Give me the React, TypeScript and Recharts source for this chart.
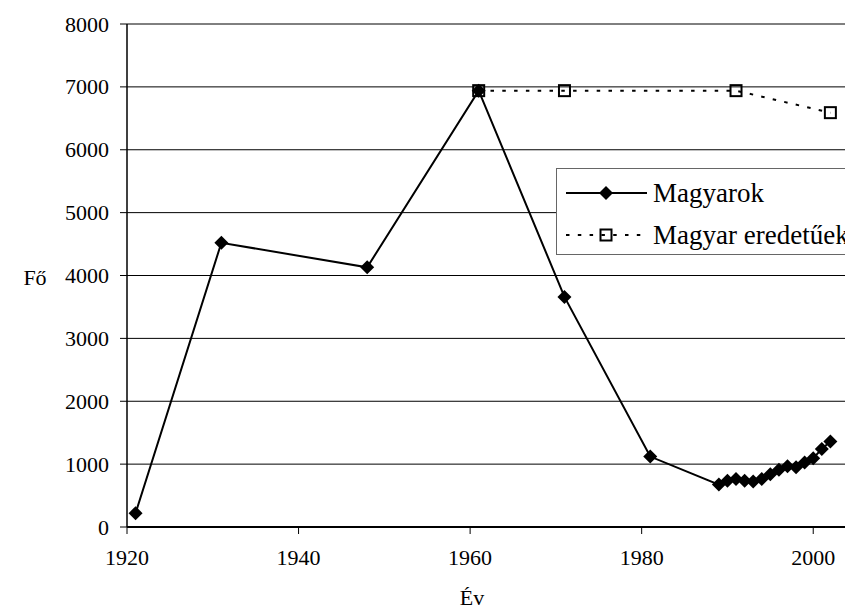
import { LineChart, Line, XAxis, YAxis, CartesianGrid, Label } from "recharts";

const FONT = "Liberation Serif, DejaVu Serif, serif";

// Magyarok (census years, then yearly estimates 1989-2002)
const magyarokYears = [1921, 1931, 1948, 1961, 1971, 1981, 1989, 1990, 1991, 1992, 1993, 1994, 1995, 1996, 1997, 1998, 1999, 2000, 2001, 2002];
const magyarokValues = [220, 4520, 4130, 6940, 3660, 1120, 675, 735, 765, 735, 725, 765, 840, 910, 965, 950, 1025, 1095, 1240, 1360];

// Magyar eredetűek
const eredetuYears = [1961, 1971, 1991, 2002];
const eredetuValues = [6940, 6940, 6940, 6590];

const yearTicks = [1920, 1940, 1960, 1980, 2000];
const valueTicks = [0, 1000, 2000, 3000, 4000, 5000, 6000, 7000, 8000];

const seriesNames = ["Magyarok", "Magyar eredetűek"];
const DASH = "3.5 8.3";

const magyarokData = magyarokYears.map((year, i) => ({ year, value: magyarokValues[i] }));
const eredetuData = eredetuYears.map((year, i) => ({ year, value: eredetuValues[i] }));

function Diamond({ cx, cy }: any) {
  if (cx == null || cy == null) return null;
  const r = 7;
  return <path d={`M${cx},${cy - r}L${cx + r},${cy}L${cx},${cy + r}L${cx - r},${cy}Z`} fill="#000" />;
}

function Square({ cx, cy }: any) {
  if (cx == null || cy == null) return null;
  const h = 5.5;
  return <rect x={cx - h} y={cy - h} width={h * 2} height={h * 2} fill="none" stroke="#000" strokeWidth={2} />;
}

function XTick({ x, y, payload }: any) {
  return (
    <text x={x} y={y} dy={15} textAnchor="middle" fill="#000" fontSize={22} fontFamily={FONT}>
      {payload.value}
    </text>
  );
}

function YTick({ x, y, payload }: any) {
  return (
    <text x={x} y={y} dy={7.5} textAnchor="end" fill="#000" fontSize={22} fontFamily={FONT}>
      {payload.value}
    </text>
  );
}

function LegendBox() {
  return (
    <svg width={330} height={87} style={{ position: "absolute", left: 556, top: 168 }}>
      <rect x={0.5} y={0.5} width={329} height={86} fill="#fff" stroke="#666" strokeWidth={1} />
      <line x1={10} y1={25} x2={91} y2={25} stroke="#000" strokeWidth={2} />
      <Diamond cx={50} cy={25} />
      <text x={97} y={34} fontSize={27} fontFamily={FONT} fill="#000">{seriesNames[0]}</text>
      <line x1={10} y1={67} x2={91} y2={67} stroke="#000" strokeWidth={2} strokeDasharray={DASH} />
      <Square cx={50} cy={67} />
      <text x={97} y={76} fontSize={27} fontFamily={FONT} fill="#000">{seriesNames[1]}</text>
    </svg>
  );
}

export default function App() {
  return (
    <div style={{ position: "absolute", left: 0, top: 0, width: 845, height: 609, overflow: "hidden", background: "#fff" }}>
      <LineChart width={909} height={609} margin={{ top: 24, right: 10, bottom: 0, left: 0 }}>
        <CartesianGrid vertical={false} stroke="#000" strokeWidth={1} />
        <XAxis
          type="number"
          dataKey="year"
          domain={[1920, 2010]}
          ticks={yearTicks}
          allowDuplicatedCategory={false}
          height={82}
          tickSize={7}
          tickMargin={16}
          axisLine={{ stroke: "#000", strokeWidth: 2 }}
          tickLine={{ stroke: "#000" }}
          tick={<XTick />}
        >
          <Label
            content={() => (
              <text x={472} y={605} textAnchor="middle" fill="#000" fontSize={22} fontFamily={FONT}>
                Év
              </text>
            )}
          />
        </XAxis>
        <YAxis
          type="number"
          domain={[0, 8000]}
          ticks={valueTicks}
          width={127}
          tickSize={7}
          tickMargin={11}
          axisLine={{ stroke: "#000", strokeWidth: 1.5 }}
          tickLine={{ stroke: "#000" }}
          tick={<YTick />}
        >
          <Label
            content={() => (
              <text x={35} y={285} textAnchor="middle" fill="#000" fontSize={22} fontFamily={FONT}>
                Fő
              </text>
            )}
          />
        </YAxis>
        <Line
          data={magyarokData}
          dataKey="value"
          name={seriesNames[0]}
          stroke="#000"
          strokeWidth={2}
          dot={<Diamond />}
          activeDot={false}
          isAnimationActive={false}
        />
        <Line
          data={eredetuData}
          dataKey="value"
          name={seriesNames[1]}
          stroke="#000"
          strokeWidth={2}
          strokeDasharray={DASH}
          dot={<Square />}
          activeDot={false}
          isAnimationActive={false}
        />
      </LineChart>
      <LegendBox />
    </div>
  );
}
